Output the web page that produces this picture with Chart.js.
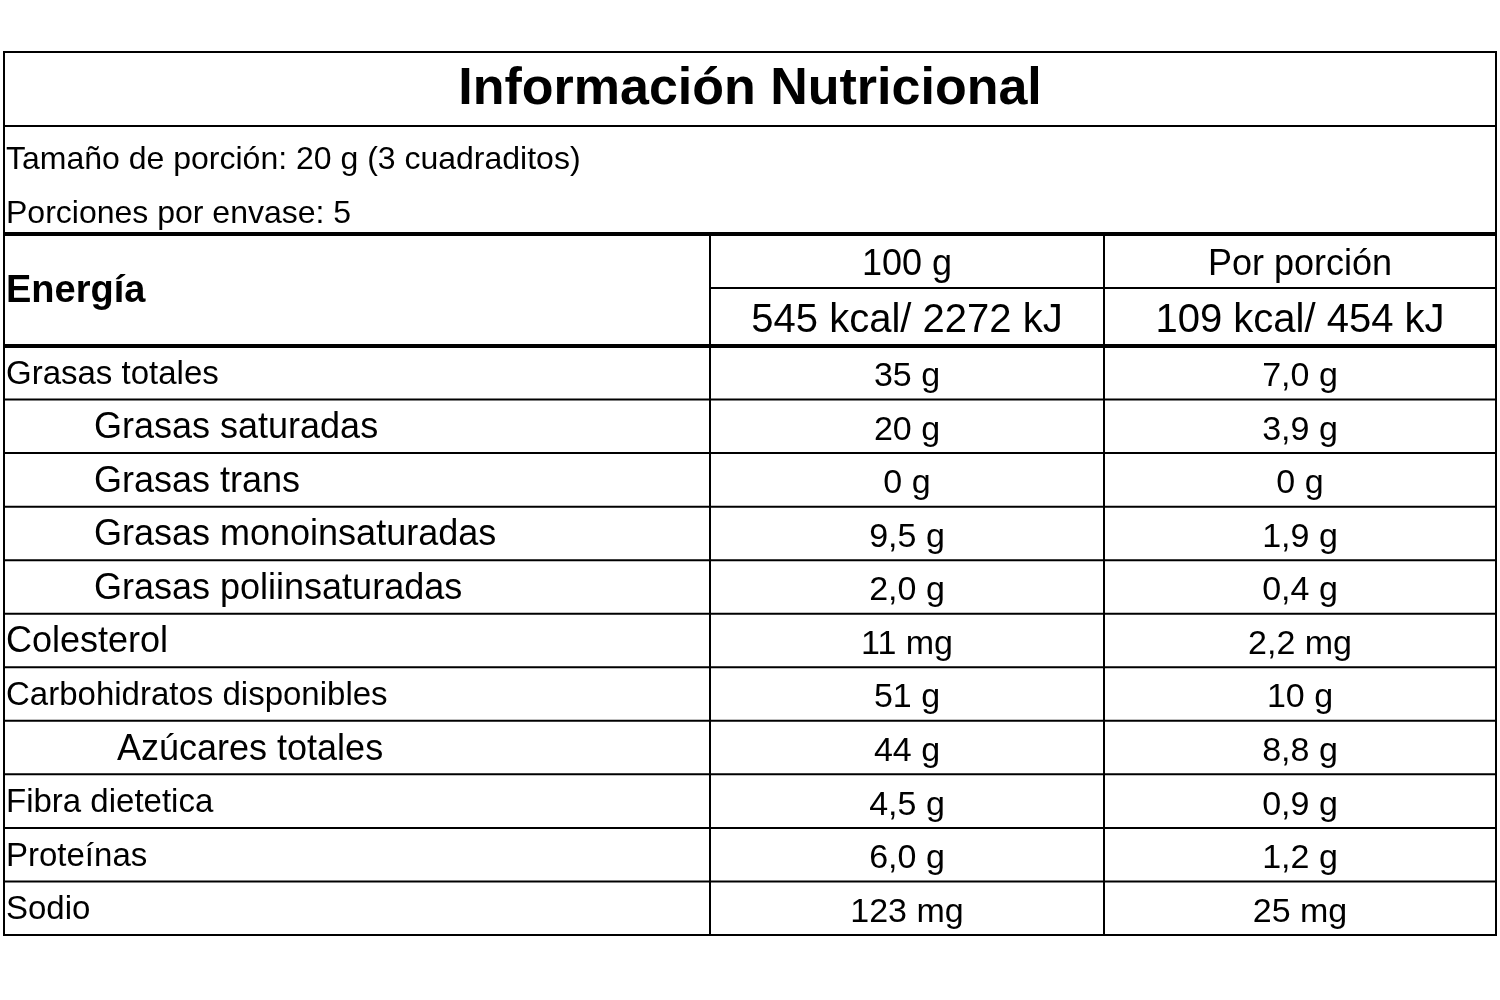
<!DOCTYPE html>
<html>
<head>
<meta charset="utf-8">
<script src="https://cdn.jsdelivr.net/npm/chart.js@4.4.1/dist/chart.umd.min.js"></script>
<style>
  html, body { margin: 0; padding: 0; background: #fff; }
  #wrap { width: 1500px; height: 1000px; }
</style>
</head>
<body>
<div id="wrap"><canvas id="c" width="1500" height="1000"></canvas></div>
<script>
var title = 'Información Nutricional';
var servingLines = ['Tamaño de porción: 20 g (3 cuadraditos)', 'Porciones por envase: 5'];
var energyLabel = 'Energía';
var columnHeads = ['100 g', 'Por porción'];
var energyValues = ['545 kcal/ 2272 kJ', '109 kcal/ 454 kJ'];
var nutrients = ['Grasas totales', 'Grasas saturadas', 'Grasas trans', 'Grasas monoinsaturadas',
  'Grasas poliinsaturadas', 'Colesterol', 'Carbohidratos disponibles', 'Azúcares totales',
  'Fibra dietetica', 'Proteínas', 'Sodio'];
var per100 = ['35 g', '20 g', '0 g', '9,5 g', '2,0 g', '11 mg', '51 g', '44 g', '4,5 g', '6,0 g', '123 mg'];
var perPortion = ['7,0 g', '3,9 g', '0 g', '1,9 g', '0,4 g', '2,2 mg', '10 g', '8,8 g', '0,9 g', '1,2 g', '25 mg'];
var levels = [0, 1, 1, 1, 1, 0, 0, 2, 0, 0, 0];

var FONT = '"Liberation Sans", Arial, sans-serif';

var tablePlugin = {
  id: 'nutritionTable',
  afterDraw: function (chart) {
    var ctx = chart.ctx;
    var xs = chart.scales.x, ys = chart.scales.y;
    function X(v) { return xs.getPixelForValue(v); }
    function Y(v) { return ys.getPixelForValue(v); }
    function hline(y, x0, x1, w) {
      ctx.lineWidth = w;
      ctx.beginPath(); ctx.moveTo(X(x0), Y(y)); ctx.lineTo(X(x1), Y(y)); ctx.stroke();
    }
    function vline(x, y0, y1, w) {
      ctx.lineWidth = w;
      ctx.beginPath(); ctx.moveTo(X(x), Y(y0)); ctx.lineTo(X(x), Y(y1)); ctx.stroke();
    }
    function text(s, x, y, size, bold, align) {
      ctx.font = (bold ? 'bold ' : '') + size + 'px ' + FONT;
      ctx.textAlign = align || 'left';
      ctx.textBaseline = 'middle';
      ctx.fillText(s, X(x), Y(y));
    }
    var W = 1492, c1 = 706, c2 = 1100;
    var bodyTop = 294, rowH = (883 - bodyTop) / nutrients.length;
    ctx.save();
    ctx.strokeStyle = '#000';
    ctx.fillStyle = '#000';
    // outer border
    ctx.lineWidth = 2;
    ctx.strokeRect(X(0), Y(0), X(W) - X(0), Y(883) - Y(0));
    hline(74, 0, W, 2);
    hline(182, 0, W, 4);
    hline(236, c1, W, 2);
    hline(bodyTop, 0, W, 4);
    vline(c1, 182, 883, 2);
    vline(c2, 182, 883, 2);
    for (var i = 1; i < nutrients.length; i++) hline(bodyTop + i * rowH, 0, W, 2);

    text(title, 746, 38, 52, true, 'center');
    text(servingLines[0], 2, 108, 32);
    text(servingLines[1], 2, 162, 32);
    text(energyLabel, 2, 240, 38, true);
    text(columnHeads[0], (c1 + c2) / 2, 213, 36, false, 'center');
    text(columnHeads[1], (c2 + W) / 2, 213, 36, false, 'center');
    text(energyValues[0], (c1 + c2) / 2, 269, 40, false, 'center');
    text(energyValues[1], (c2 + W) / 2, 269, 40, false, 'center');

    var indents = [2, 90, 113];
    for (var r = 0; r < nutrients.length; r++) {
      var yc = bodyTop + r * rowH + rowH / 2 + 4;
      var big = levels[r] > 0 || nutrients[r] === 'Colesterol';
      text(nutrients[r], indents[levels[r]], yc - 2, big ? 36 : 33);
      text(per100[r], (c1 + c2) / 2, yc, 34, false, 'center');
      text(perPortion[r], (c2 + W) / 2, yc, 34, false, 'center');
    }
    ctx.restore();
  }
};

new Chart(document.getElementById('c'), {
  type: 'scatter',
  data: { datasets: [] },
  options: {
    responsive: false,
    animation: false,
    layout: { padding: { left: 4, right: 4, top: 52, bottom: 65 } },
    plugins: { legend: { display: false }, tooltip: { enabled: false } },
    scales: {
      x: { type: 'linear', min: 0, max: 1492, display: false },
      y: { type: 'linear', min: 0, max: 883, reverse: true, display: false }
    }
  },
  plugins: [tablePlugin]
});
</script>
</body>
</html>
